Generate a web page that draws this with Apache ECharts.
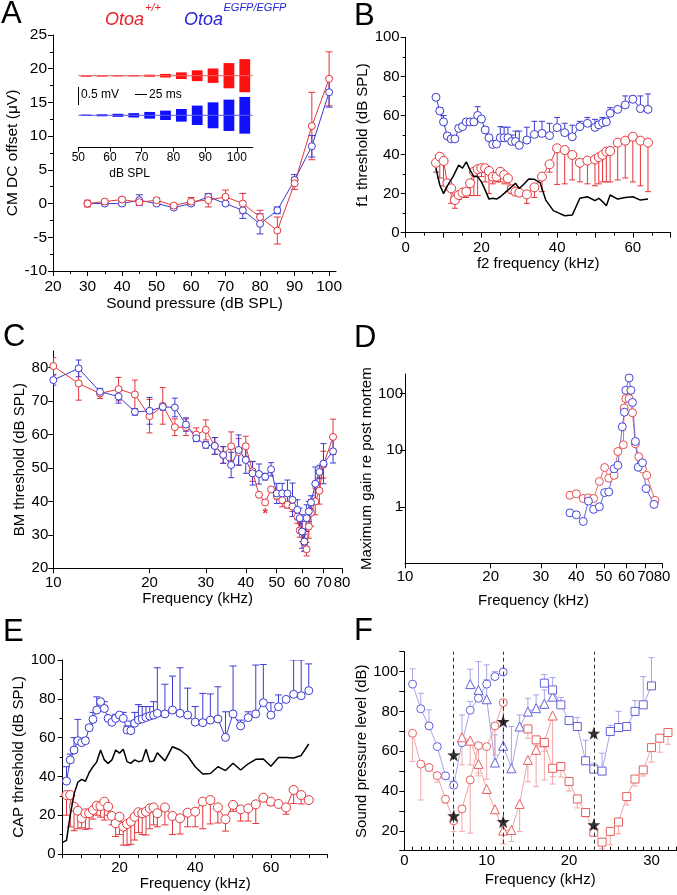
<!DOCTYPE html>
<html>
<head>
<meta charset="utf-8">
<script src="https://cdn.jsdelivr.net/npm/echarts@6.0.0/dist/echarts.min.js"></script>
<style>
html,body{margin:0;padding:0;background:#fff;}
#chart{width:677px;height:895px;}
</style>
</head>
<body>
<div id="chart"></div>
<script>
// ===================== DATA =====================
// ---- Panel A: CM DC offset vs sound pressure ----
const aLevels   = [30,35,40,45,50,55,60,65,70,75,80,85,90,95,100];
const aRed      = [0,0.3,0.6,0.2,0.5,-0.3,0.3,0.5,1.0,0,-2,-4,3,11.5,18.5];
const aRedErr   = [0.5,0.2,0.3,0.3,0.3,0.2,0.6,1.0,1.0,1.5,1.0,2.0,0.9,5.0,4.0];
const aBlue     = [0,0,0,0.5,0,-0.6,0,1.0,0,-1,-3,-1,3.5,8.5,16.5];
const aBlueErr  = [0.2,0.2,0.3,0.8,0.2,0.2,0.3,0.4,0.2,1.2,1.5,0.5,0.8,1.6,2.2];
const aXTicks   = [20,30,40,50,60,70,80,90,100];
// inset: tone-burst CM responses (half amplitude, mV)
const insetLevels   = [50,55,60,65,70,75,80,85,90,95,100];
const insetRedAmp   = [0.005,0.01,0.014,0.019,0.028,0.05,0.093,0.15,0.2,0.35,0.46];
const insetBlueAmp  = [0.019,0.028,0.042,0.06,0.093,0.13,0.176,0.27,0.36,0.435,0.51];
const insetTicks    = [50,60,70,80,90,100];

// ---- Panel B: DPOAE f1 threshold ----
const bFreq   = [8,9,10,11,12,13,14,15,16,17,18,19,20,21,22,23,24,25,26,27,28,29,30,32,34,36,38,40,42,44,46,48,50,51,52,53,54,56,58,60,62,64];
const bBlue   = [69.3,62.3,56.7,49.5,48,48,53.4,54.3,56.7,56.7,56.7,60,58.2,52.6,48.6,45.2,45.4,48.6,48.6,48.6,46.7,46.7,44.7,47.4,50.3,50.8,49.7,53.8,51.2,49.1,54.3,56,53.9,55.2,56.3,56.7,61.1,63.1,65.4,68.3,63.5,63.1];
const bBlueTop= [70,64,60,51,49,49,55,56,58,58,58,64.5,59.5,54,50,47,47,54.3,54,54,50,52,52,54,57,57,56,59,56,55,57,59,58,57,59,58,64,64,70,70,70,71];
const bRed    = [35.8,38.9,36.7,25.3,22.7,16.7,19.3,20.5,21,25.3,31.2,32.5,33,33,31.6,28.7,28.7,31.2,29.5,27.8,22.2,21,20.5,19.6,23.2,28.7,35,43.2,42.3,39.8,35.8,36.9,37.5,38.6,39.8,41.5,41.8,46.1,47.1,49.1,47.1,46.1];
const bRedBot = [31,28,24,22,15,12.5,17,18,18,19,19,19,28.7,26,20,25,26,26,25,21,20,19,19,15,18,21,31,24.7,25,27,26,25,24,25,26,26,26,27,28,26,24,21];
const bNoiseFreq = [8,9,10,11,12.5,14,15,16,17,18,19,20,21,22,23,24,25,27,29,30,31,32.5,34,35.5,37,39,40.5,42,44,46,48,50,51,52,53,54,56,58,60,62,64];
const bNoise     = [33,24.4,20,24,28.7,34.6,33,36.3,32,28.7,28.7,26,21.8,17.2,17.6,17.2,18.4,21.8,25.3,22.7,24.4,27.5,27.3,25.6,16.7,11.3,10,8.7,9,17.6,18.4,16.4,17.6,15.9,13.8,19.3,17.2,18,18.4,16.7,17.2];
const bXLabels = [0,20,40,60];

// ---- Panel C: BM threshold ----
const cFreq    = [10,12,14,16,18,20,22,24,26,28,30,32,34,36,38,40,42,44,46,48,50,52,54,56,58,59,60,61,62,63,64,66,68,70,75];
const cBlue    = [76.3,79.8,72.8,71.4,66.8,67.1,68.3,68.1,63,58.9,56.9,56.6,53.9,50.9,55.4,52.4,48.4,48.2,47.4,49.6,42.4,42.4,42.4,40.5,37.5,35,31,28,35,37,39.7,45.3,48.8,51.3,55];
const cBlueErr = [1.5,2.5,1,2,1,4,1,2.8,2,1,1,2.5,2.5,3.8,4.5,4,3.5,3,1,2,3,3,4,5,3,3,5,3,4,3,2,5,2,6,3.5];
const cRed     = [80.5,75.3,72.3,73.6,72,65.5,68.6,62.2,62.2,60,61.4,56.6,53.9,56.5,54.8,56.5,49,42,39.7,43.6,41.7,40.4,39,38.5,35.5,31.3,31,27.7,25.7,32.5,36.6,40,43.2,51,59.3];
const cRedErr  = [2.5,5,1.5,3.5,4.3,5,5.5,2.5,2.5,2,3,2.5,2.5,4.3,4,3,3,0,0.5,0,1,2,1,1.5,2,2,3,2.5,2,3.5,4,4,4,4,5.3];
const cStar    = [[46,37]];
const cXTicks  = [10,20,30,40,50,60,70,80];
const cYTicks  = [20,30,40,50,60,70,80];

// ---- Panel D: maximum gain ----
const dRedFreq  = [38,40,42.3,44.1,46,48.2,50.3,52,54.3,56,58.5,58.9,59.7,61.3,63,64.5,66.3,68.3,70.7,75.6];
const dRed      = [1.6,1.7,1.4,1.44,1.4,2.8,4.95,3.2,3.6,9.5,12.5,56,82,82,46,13,7.7,4.7,3.6,1.3];
const dBlueFreq = [38,40,42.3,44.1,46,48.2,50.3,52,54.3,56,58,59,59.7,61.3,62.2,63,64.5,66,68.3,70.3,75];
const dBlue     = [0.78,0.72,0.55,1.26,0.9,1.0,1.78,1.83,4.7,5.4,26,47,115,190,115,70,14.3,5,6,2.1,1.1];
const dXTicks   = [10,20,30,40,50,60,70,80];
const dYTicks   = [1,10,100];

// ---- Panel E: CAP threshold ----
const eFreq    = [6,7,8,9,10,11,12,13,14,15,16,17,18,19,20,21,22,23,24,25,26,27,28,29,30,32,34,36,38,40,42,44,46,48,50,52,54,56,58,60,62,64,66,68,70];
const eBlue    = [37.6,48.5,53.6,58.4,57.4,58.4,65.1,69.4,74.2,78.5,75,69.9,67.9,69.9,71.6,69.9,63.9,63.6,67.4,69.1,69.6,70.4,71.1,71.6,72.5,72.2,74.2,72.5,71.6,68,67.7,69,69.6,60.1,72.2,66,70.3,72.2,78,71.6,75.9,79.7,82.3,81.6,84.2];
const eBlueTop = [45,51.5,60,69.4,59,60,66.5,73,81,79.5,78.5,71,70.7,72,73,73,66,68.5,73,77,76,76,76,78.5,96,87.5,91.7,96,85.5,76,82.8,82.5,86.2,73.3,96.9,69,73.3,97.4,97.7,78,82,80,100,100,98];
const eRed     = [30.4,30.4,24.4,22.3,18.4,21,21,22.7,24.9,24.7,27,24.4,19.6,15.8,19.2,14.1,15.5,16.7,19.2,21.5,21,21.8,23.5,24,21,24,19.6,18.4,21.3,21.8,27,27.8,24,17.9,25.3,23,23.5,25.6,29,27,25.8,24,33,30.4,27.8];
const eRedBot  = [20,14,12,13,13.5,12.7,13,18,20,19,17.5,20,15,9,10,4.6,4.5,5,7.2,11,10,9.8,13,15,14,15,10,10.3,14,14,13,15.5,16,11.8,22,17,17,15.7,27,25,25,20.5,26,25.8,26.5];
const eNoiseFreq = [5,6,7,8,9,10,11,12,13,14,15,16,17,18,19,20,21,22,23,24,25,26,27,28,29,30,32,34,36,38,40,42,44,46,48,50,52,54,56,58,60,62,64,66,68,70];
const eNoise     = [6,7,20,31,37,38.5,37.5,42,45,47.5,53.6,48.5,46.7,48.5,53.6,52,54,47.6,46.7,48.5,47.6,48,54,47.6,47.9,52.2,48,55.3,53.6,50.5,45,41.2,41.5,45,43,46.8,43.3,46.5,48.8,49,45.2,49.7,49.8,49.5,50.8,56.7];
const eXLabels = [20,40,60];

// ---- Panel F: tuning curves ----
const fBlueCircFreq = [1,2,3,4,5,6,7,8,9,10,11,12];
const fBlueCirc     = [93.7,81.3,72.7,62.3,47.6,42.9,64.3,80.6,86.6,93.7,97.5,99.8];
const fBlueCircTop  = [101.4,89.1,80.8,64,48.6,45,78.2,85,90,96,100,101];
const fBlueTriFreq  = [8,9,10,11,12,13,14,15,16,17,18];
const fBlueTri      = [93.7,90.8,86.1,54.3,62.7,51.4,72.4,79.9,81.6,83.8,87.4];
const fBlueTriTop   = [101.2,105,103.4,68.2,74,72.4,78.2,86.6,88.3,90.8,92];
const fBlueSqFreq   = [17,18,19,20,21,22,23,24,25,26,27,28,29,30];
const fBlueSq       = [94.2,90.8,83.3,75.4,72.4,55.2,51,50,69.9,71.9,72.4,80,83.3,92.8];
const fBlueSqTop    = [98.5,97,87,77,77,65.5,54,59,73,80,74,85.5,97.5,107];
const fRedCircFreq  = [1,2,3,4,5,6,7,8,9,10,11,12];
const fRedCirc      = [69,53.5,51.8,47.7,35.9,25,31,45.6,62.8,62.3,72.7,84.4];
const fRedCircBot   = [54.8,35.5,50.1,44.4,33.9,19.6,19.6,18.8,49,45.9,58.1,75];
const fRedTriFreq   = [7,8,9,10,11,12,13,14,15,16,17,18];
const fRedTri       = [67,65.3,53.6,41,30.8,20.1,20.4,33.5,55.6,60.7,64.5,77.9];
const fRedTriBot    = [53.1,53.1,47.6,38.9,28.8,13.4,14.6,19.6,44.7,42.2,45.6,47.2];
const fRedSqFreq    = [15,16,17,18,19,20,21,22,23,24,25,26,27,28,29,30,31,32];
const fRedSq        = [71.2,65.7,64.4,51.4,52.3,44.8,36,29.2,19.3,14.3,19.7,24.4,37.2,46,50.6,61.8,66.5,69.4];
const fRedSqBot     = [66.5,63,60,43.5,47,40,31.5,27,17.5,11,13,18.5,33,42.5,47.5,54.5,59.5,63.5];
const fStars        = [[6,58.1],[6,27.5],[12,74.9],[12,24.6],[23,69],[23,23]];
const fCharFreqs    = [6,12,23];
const fXLabels      = [0,10,20,30];
const fYLabels      = [20,40,60,80,100];

// ===================== RENDERING =====================
const FONT = '"Liberation Sans", Arial, Helvetica, sans-serif';
const RED = '#e4353b', BLUE = '#3b3bd4';
const REDF = '#e86060', BLUEF = '#6262dc', REDL = '#f2a6a6', BLUEL = '#a6a6ec';

function mk(base, over) {
  const r = {};
  for (const k in base) r[k] = (base[k] && typeof base[k] === 'object' && !Array.isArray(base[k])) ? Object.assign({}, base[k]) : base[k];
  for (const k in over) {
    if (over[k] && typeof over[k] === 'object' && !Array.isArray(over[k]) && r[k] && typeof r[k] === 'object') r[k] = Object.assign({}, r[k], over[k]);
    else r[k] = over[k];
  }
  return r;
}
const AXB = {
  type: 'value',
  axisLine: {show: true, onZero: false, lineStyle: {color: '#000', width: 1}},
  axisTick: {show: true, length: 5, lineStyle: {color: '#000', width: 1}},
  minorTick: {show: false, length: 3, lineStyle: {color: '#000', width: 1}},
  splitLine: {show: false},
  minorSplitLine: {show: false},
  axisLabel: {color: '#000', fontSize: 15, fontFamily: FONT, margin: 7},
  nameLocation: 'middle',
  nameTextStyle: {color: '#000', fontSize: 15, fontFamily: FONT}
};

const pairs = (xs, ys) => xs.map((x, i) => [x, ys[i]]);

function lineS(xi, xs, ys, color, sym, size, lineColor, lw, z) {
  return {
    type: 'line', xAxisIndex: xi, yAxisIndex: xi, data: pairs(xs, ys),
    symbol: sym, symbolSize: size, showSymbol: sym !== 'none', showAllSymbol: true,
    lineStyle: {color: lineColor || color, width: lw || 1},
    itemStyle: {color: '#ffffff', borderColor: color, borderWidth: 1, opacity: 1},
    animation: false, silent: true, z: z || 3
  };
}
function errS(xi, xs, lo, hi, color, capW, capLo, capHi) {
  return {
    type: 'custom', xAxisIndex: xi, yAxisIndex: xi, silent: true, animation: false, z: 2, clip: true,
    data: xs.map((x, i) => [x, lo[i], hi[i]]),
    encode: {x: 0, y: [1, 2]},
    renderItem: function (params, api) {
      const x = api.value(0), l = api.value(1), h = api.value(2);
      if (Math.abs(h - l) < 1e-9) return null;
      const a = api.coord([x, l]), b = api.coord([x, h]);
      const st = {stroke: color, lineWidth: 1, fill: null};
      const ch = [{type: 'line', shape: {x1: a[0], y1: a[1], x2: b[0], y2: b[1]}, style: st}];
      if (capLo) ch.push({type: 'line', shape: {x1: a[0] - capW, y1: a[1], x2: a[0] + capW, y2: a[1]}, style: st});
      if (capHi) ch.push({type: 'line', shape: {x1: b[0] - capW, y1: b[1], x2: b[0] + capW, y2: b[1]}, style: st});
      return {type: 'group', children: ch};
    }
  };
}
function burstS(levels, amps, offset, color) {
  return {
    type: 'custom', xAxisIndex: 1, yAxisIndex: 1, silent: true, animation: false, z: 3,
    data: levels.map((l, i) => [l, amps[i]]),
    encode: {x: 0, y: 1},
    renderItem: function (params, api) {
      const l = api.value(0), a = api.value(1);
      const p1 = api.coord([l + 0.8, offset + a]), p2 = api.coord([l + 4.2, offset - a]);
      return {type: 'rect', shape: {x: p1[0], y: p1[1], width: p2[0] - p1[0], height: Math.max(1.2, p2[1] - p1[1])}, style: {fill: color}};
    }
  };
}

const symm = (ys, es, s) => ys.map((y, i) => y + s * es[i]);

const grids = [
  {left: 53, top: 35, width: 283, height: 236},
  {left: 78.3, top: 50.5, width: 174.4, height: 97.2},
  {left: 405.7, top: 37.3, width: 265, height: 195.4},
  {left: 53.3, top: 351, width: 288.7, height: 217.3},
  {left: 405, top: 374, width: 257, height: 189.3},
  {left: 62.7, top: 660, width: 265, height: 194},
  {left: 404.3, top: 651.7, width: 271.9, height: 199}
].map(g => Object.assign({containLabel: false, outerBoundsMode: 'none'}, g));

const xAxes = [
  mk(AXB, {gridIndex: 0, min: 20, max: 102, interval: 10,
    axisLabel: {customValues: aXTicks, margin: 8, fontSize: 15.5}, axisTick: {customValues: aXTicks},
    minorTick: {show: true, splitNumber: 2},
    name: 'Sound pressure (dB SPL)', nameGap: 25, nameTextStyle: {fontSize: 15.5}}),
  mk(AXB, {gridIndex: 1, min: 50, max: 105, interval: 10,
    axisLabel: {customValues: insetTicks, fontSize: 12, margin: 4}, axisTick: {customValues: insetTicks, length: 4}}),
  mk(AXB, {gridIndex: 2, min: 0, max: 70, interval: 10,
    axisLabel: {customValues: bXLabels, margin: 8}, minorTick: {show: true, splitNumber: 2},
    name: 'f2 frequency (kHz)', nameGap: 21}),
  mk(AXB, {gridIndex: 3, type: 'log', logBase: 10, min: 10, max: 80,
    axisLabel: {customValues: cXTicks, margin: 7}, axisTick: {customValues: cXTicks},
    name: 'Frequency (kHz)', nameGap: 14}),
  mk(AXB, {gridIndex: 4, type: 'log', logBase: 10, min: 10, max: 80,
    axisLabel: {customValues: dXTicks, margin: 6}, axisTick: {customValues: dXTicks},
    name: 'Frequency (kHz)', nameGap: 30}),
  mk(AXB, {gridIndex: 5, min: 5, max: 75, interval: 5,
    axisLabel: {customValues: eXLabels, margin: 6}, axisTick: {length: 4},
    name: 'Frequency (kHz)', nameGap: 21}),
  mk(AXB, {gridIndex: 6, min: 0, max: 33, interval: 1,
    axisLabel: {customValues: fXLabels, margin: 3}, axisTick: {inside: true, length: 4},
    name: 'Frequency (kHz)', nameGap: 22})
];
const yAxes = [
  mk(AXB, {gridIndex: 0, min: -10, max: 25, interval: 5, minorTick: {show: true, splitNumber: 2},
    axisLabel: {margin: 6, fontSize: 15.5}, name: 'CM DC offset (\u03bcV)', nameGap: 20, nameTextStyle: {fontSize: 15.5}}),
  mk(AXB, {gridIndex: 1, min: -0.9, max: 1.8, show: false}),
  mk(AXB, {gridIndex: 2, min: 0, max: 100, interval: 20, minorTick: {show: true, splitNumber: 2},
    axisLabel: {margin: 6}, name: 'f1 threshold (dB SPL)', nameGap: 28}),
  mk(AXB, {gridIndex: 3, min: 20, max: 85, interval: 10,
    axisLabel: {customValues: cYTicks, margin: 5}, axisTick: {customValues: cYTicks},
    name: 'BM threshold (dB SPL)', nameGap: 26}),
  mk(AXB, {gridIndex: 4, type: 'log', logBase: 10, min: 0.1, max: 223,
    axisLabel: {customValues: dYTicks, margin: 2}, axisTick: {customValues: dYTicks},
    name: 'Maximum gain re post mortem', nameGap: 21}),
  mk(AXB, {gridIndex: 5, min: 0, max: 100, interval: 20, minorTick: {show: true, splitNumber: 2},
    axisLabel: {margin: 7}, name: 'CAP threshold (dB SPL)', nameGap: 29}),
  mk(AXB, {gridIndex: 6, min: 10, max: 110, interval: 10,
    axisLabel: {customValues: fYLabels, margin: 6}, name: 'Sound pressure level (dB)', nameGap: 31})
];

const starPath = 'path://M0,-10 L2.35,-3.24 L9.51,-3.09 L3.8,1.24 L5.88,8.09 L0,4 L-5.88,8.09 L-3.8,1.24 L-9.51,-3.09 L-2.35,-3.24 Z';

const series = [
  // ---- A ----
  errS(0, aLevels, symm(aRed, aRedErr, -1), symm(aRed, aRedErr, 1), RED, 3.5, true, true),
  errS(0, aLevels, symm(aBlue, aBlueErr, -1), symm(aBlue, aBlueErr, 1), BLUE, 3.5, true, true),
  lineS(0, aLevels, aBlue, BLUE, 'circle', 7),
  lineS(0, aLevels, aRed, RED, 'circle', 7),
  // inset
  {type: 'line', xAxisIndex: 1, yAxisIndex: 1, data: [[50, 1.1], [105, 1.1]], symbol: 'none', lineStyle: {color: '#f06060', width: 1}, animation: false, silent: true},
  {type: 'line', xAxisIndex: 1, yAxisIndex: 1, data: [[50, 0], [105, 0]], symbol: 'none', lineStyle: {color: '#6060f0', width: 1}, animation: false, silent: true},
  burstS(insetLevels, insetRedAmp, 1.1, '#ff1010'),
  burstS(insetLevels, insetBlueAmp, 0, '#1010ff'),
  // ---- B ----
  errS(2, bFreq, bBlue, bBlueTop, BLUE, 3, false, true),
  errS(2, bFreq, bRedBot, bRed, RED, 3, true, false),
  lineS(2, bNoiseFreq, bNoise, '#000', 'none', 0, '#000', 1.5, 4),
  lineS(2, bFreq, bBlue, BLUE, 'circle', 8),
  lineS(2, bFreq, bRed, RED, 'circle', 9),
  // ---- C ----
  errS(3, cFreq, symm(cRed, cRedErr, -1), symm(cRed, cRedErr, 1), RED, 3, true, true),
  errS(3, cFreq, symm(cBlue, cBlueErr, -1), symm(cBlue, cBlueErr, 1), BLUE, 3, true, true),
  lineS(3, cFreq, cRed, RED, 'circle', 7),
  lineS(3, cFreq, cBlue, BLUE, 'circle', 7),
  {type: 'custom', xAxisIndex: 3, yAxisIndex: 3, data: cStar, silent: true, animation: false, z: 5,
    renderItem: function (params, api) {
      const p = api.coord([api.value(0), api.value(1)]);
      return {type: 'text', x: p[0], y: p[1] + 3, style: {text: '*', fill: RED, fontSize: 14, fontFamily: FONT, fontWeight: 'bold', align: 'center', verticalAlign: 'middle'}};
    }},
  // ---- D ----
  lineS(4, dRedFreq, dRed, '#e85050', 'circle', 8, '#e87070'),
  lineS(4, dBlueFreq, dBlue, '#4545dc', 'circle', 8, '#6a6ae0'),
  // ---- E ----
  errS(5, eFreq, eBlue, eBlueTop, BLUE, 3.5, false, true),
  errS(5, eFreq, eRedBot, eRed, RED, 3.5, true, false),
  lineS(5, eNoiseFreq, eNoise, '#000', 'none', 0, '#000', 1.5, 4),
  lineS(5, eFreq, eBlue, BLUE, 'circle', 8),
  lineS(5, eFreq, eRed, RED, 'circle', 9),
  // ---- F ----
  errS(6, fBlueCircFreq, fBlueCirc, fBlueCircTop, BLUEL, 3, false, true),
  errS(6, fBlueTriFreq, fBlueTri, fBlueTriTop, BLUEL, 3, false, true),
  errS(6, fBlueSqFreq, fBlueSq, fBlueSqTop, BLUEL, 3, false, true),
  errS(6, fRedCircFreq, fRedCircBot, fRedCirc, REDL, 3, true, false),
  errS(6, fRedTriFreq, fRedTriBot, fRedTri, REDL, 3, true, false),
  errS(6, fRedSqFreq, fRedSqBot, fRedSq, REDL, 3, true, false),
  lineS(6, fBlueCircFreq, fBlueCirc, BLUEF, 'circle', 8, BLUEL),
  lineS(6, fBlueTriFreq, fBlueTri, BLUEF, 'triangle', 9, BLUEL),
  lineS(6, fBlueSqFreq, fBlueSq, BLUEF, 'rect', 8, BLUEL),
  lineS(6, fRedCircFreq, fRedCirc, REDF, 'circle', 8, REDL),
  lineS(6, fRedTriFreq, fRedTri, REDF, 'triangle', 9, REDL),
  lineS(6, fRedSqFreq, fRedSq, REDF, 'rect', 8, REDL),
  {type: 'scatter', xAxisIndex: 6, yAxisIndex: 6, data: fStars, symbol: starPath, symbolSize: 13,
    itemStyle: {color: '#000'}, animation: false, silent: true, z: 6,
    markLine: {silent: true, symbol: ['none', 'none'], label: {show: false}, animation: false,
      lineStyle: {color: '#333', type: [4, 3], width: 1},
      data: fCharFreqs.map(v => ({xAxis: v}))}}
];

function txt(x, y, s, size, color, extra) {
  return {type: 'text', x: x, y: y, silent: true, z: 100,
    style: Object.assign({text: s, fontSize: size, fontFamily: FONT, fill: color || '#000', align: 'left', verticalAlign: 'middle'}, extra || {})};
}
const graphic = [
  txt(1, 14, 'A', 31), txt(354, 16, 'B', 31), txt(3, 337, 'C', 31),
  txt(354, 338, 'D', 31), txt(3, 632, 'E', 31), txt(354, 631, 'F', 31),
  txt(105, 19.5, 'Otoa', 18, '#e8202a', {fontStyle: 'italic'}),
  txt(145, 7.5, '+/+', 11, '#e8202a', {fontStyle: 'italic'}),
  txt(184, 19.5, 'Otoa', 18, '#2626d8', {fontStyle: 'italic'}),
  txt(223.5, 7.5, 'EGFP/EGFP', 11, '#2626d8', {fontStyle: 'italic'}),
  // inset scale bars
  {type: 'line', silent: true, z: 100, shape: {x1: 78.5, y1: 87, x2: 78.5, y2: 105}, style: {stroke: '#000', lineWidth: 1}},
  txt(81, 95, '0.5 mV', 12),
  {type: 'line', silent: true, z: 100, shape: {x1: 135, y1: 94.5, x2: 147, y2: 94.5}, style: {stroke: '#000', lineWidth: 1}},
  txt(149, 95, '25 ms', 12),
  txt(129.7, 174, 'dB SPL', 12, '#000', {align: 'center'})
];

const chart = echarts.init(document.getElementById('chart'), null, {renderer: 'canvas'});
chart.setOption({
  animation: false,
  backgroundColor: '#fff',
  grid: grids,
  xAxis: xAxes,
  yAxis: yAxes,
  series: series,
  graphic: graphic
});
</script>
</body>
</html>
